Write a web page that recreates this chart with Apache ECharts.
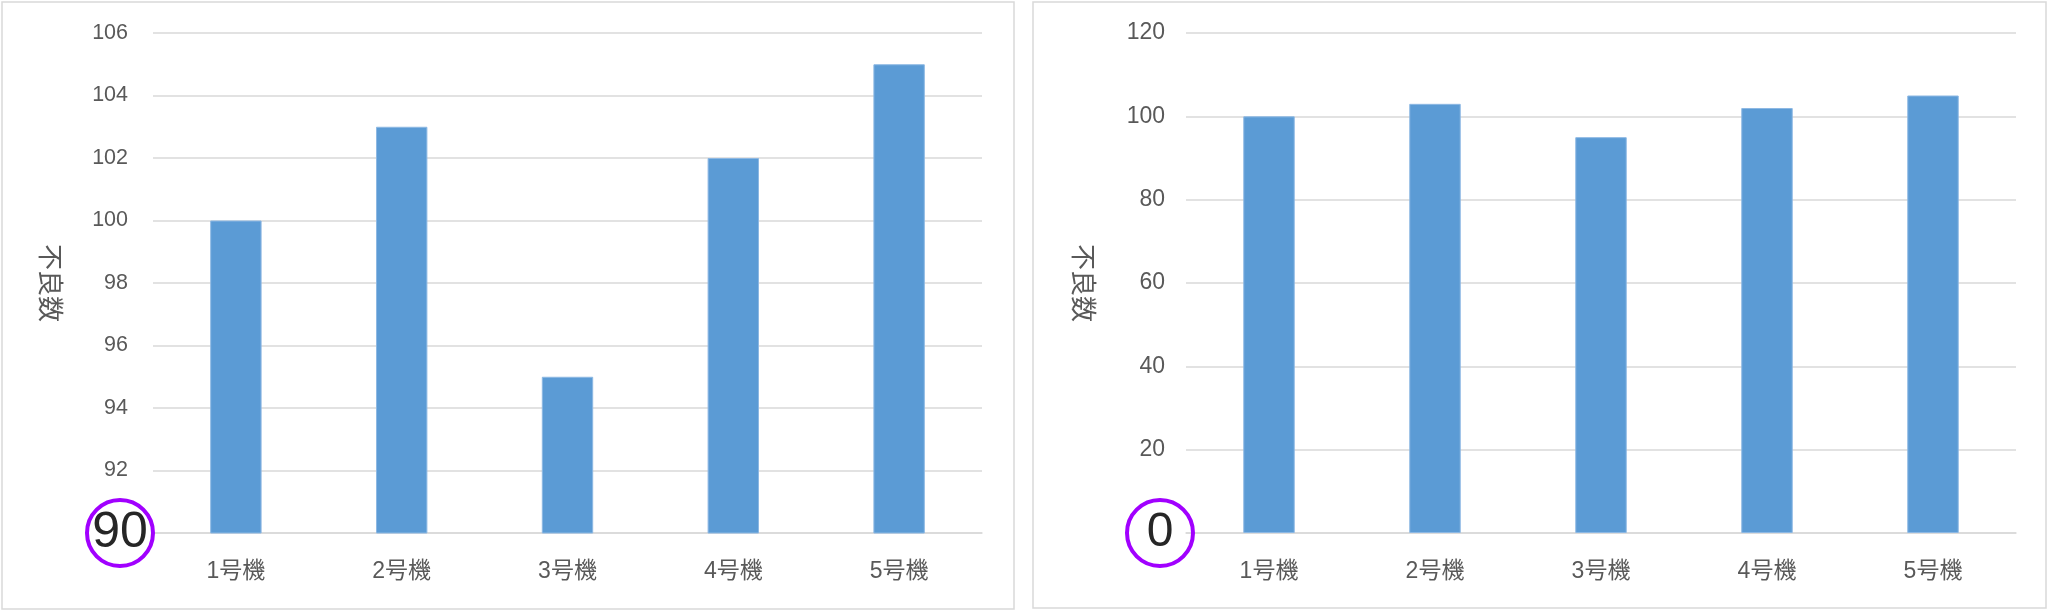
<!DOCTYPE html>
<html>
<head>
<meta charset="utf-8">
<script src="https://cdn.jsdelivr.net/npm/echarts@6/dist/echarts.min.js"></script>
<style>
html,body{margin:0;padding:0;background:#fff;}
#chart{width:2048px;height:612px;}
</style>
</head>
<body>
<div id="chart"></div>
<script>
const categories = ['1号機', '2号機', '3号機', '4号機', '5号機'];
const defects = [100, 103, 95, 102, 105];
const axisName = '不良数';
const leftAxis = { min: 90, max: 106, interval: 2 };
const rightAxis = { min: 0, max: 120, interval: 20 };

const FONT = '"Liberation Sans", "Noto Sans CJK JP", sans-serif';
const TXT = '#595959';
const GRID = '#D9D9D9';
const BAR = '#5B9BD5';
const RING = '#A100FF';

function yAxisCfg(gridIndex, ax, fontSize, hlSize, margin, padRight) {
  return {
    type: 'value', gridIndex: gridIndex,
    min: ax.min, max: ax.max, interval: ax.interval,
    name: axisName, nameLocation: 'middle', nameGap: 92, nameRotate: -90,
    nameTextStyle: { color: TXT, fontSize: 26, fontFamily: FONT },
    axisLine: { show: false }, axisTick: { show: false },
    splitLine: { lineStyle: { color: GRID, width: 1.5 } },
    axisLabel: {
      margin: margin,
      formatter: function (v) { return v === ax.min ? '{h|' + v + '}' : '{n|' + v + '}'; },
      rich: {
        n: { color: TXT, fontSize: fontSize, fontFamily: FONT, padding: [0, padRight, 0, 0] },
        h: { color: '#262626', fontSize: hlSize, fontFamily: FONT, width: 66, height: 66,
             align: 'center', verticalAlign: 'middle', lineHeight: 66,
             borderColor: RING, borderWidth: 4, borderRadius: 36 }
      }
    }
  };
}

function xAxisCfg(gridIndex) {
  return {
    type: 'category', gridIndex: gridIndex, data: categories,
    axisLine: { lineStyle: { color: GRID, width: 1.5 } },
    axisTick: { show: false },
    axisLabel: { color: TXT, fontSize: 23, fontFamily: FONT, margin: 27 }
  };
}

const chart = echarts.init(document.getElementById('chart'), null, { renderer: 'canvas' });
chart.setOption({
  animation: false,
  backgroundColor: '#fff',
  graphic: [
    { type: 'rect', shape: { x: 2, y: 2, width: 1012, height: 607 }, style: { fill: 'none', stroke: GRID, lineWidth: 1.5 } },
    { type: 'rect', shape: { x: 1033, y: 2, width: 1013, height: 606 }, style: { fill: 'none', stroke: GRID, lineWidth: 1.5 } }
  ],
  grid: [
    { left: 153, top: 33, width: 829, height: 500 },
    { left: 1186, top: 33, width: 830, height: 500 }
  ],
  xAxis: [xAxisCfg(0), xAxisCfg(1)],
  yAxis: [
    yAxisCfg(0, leftAxis, 21.5, 50, 0, 25),
    yAxisCfg(1, rightAxis, 23, 48, -7, 28)
  ],
  series: [
    { type: 'bar', xAxisIndex: 0, yAxisIndex: 0, data: defects, barWidth: '31%',
      itemStyle: { color: BAR, borderColor: '#8DB8E3', borderWidth: 1 } },
    { type: 'bar', xAxisIndex: 1, yAxisIndex: 1, data: defects, barWidth: '31%',
      itemStyle: { color: BAR, borderColor: '#8DB8E3', borderWidth: 1 } }
  ]
});
</script>
</body>
</html>
